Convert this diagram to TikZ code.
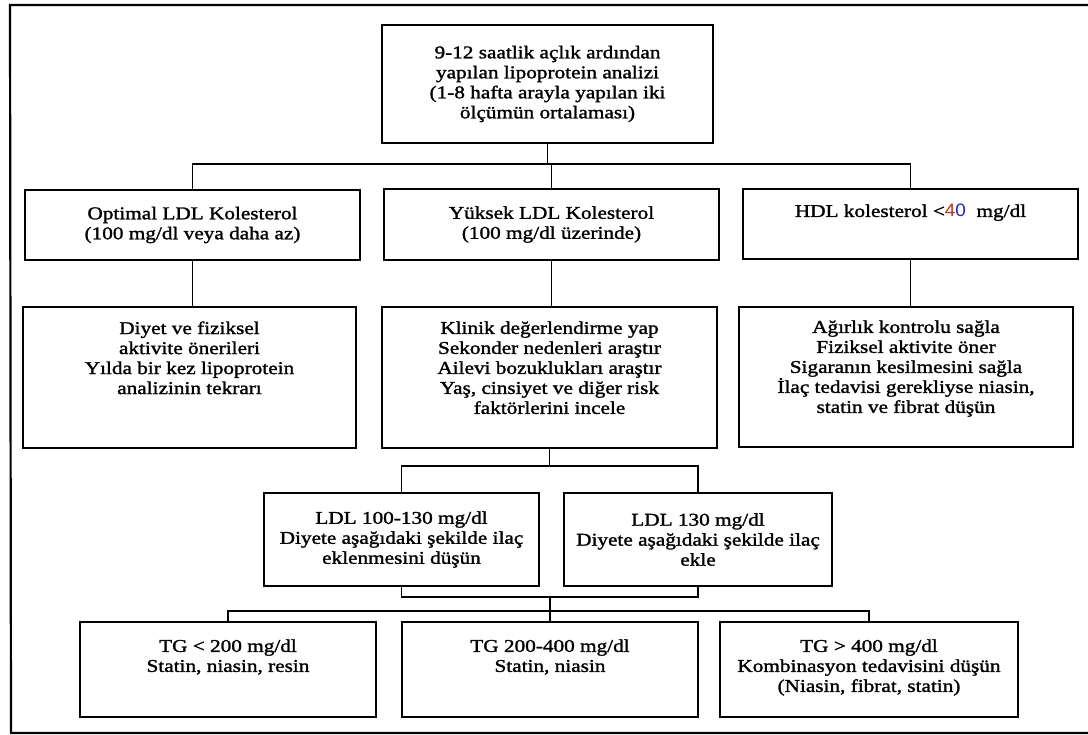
\documentclass[tikz,border=0pt]{standalone}
\usepackage{fontspec}
\setmainfont{Liberation Serif}[FakeStretch=1.18,FakeBold=1.5]
\newfontfamily\numfont{Liberation Sans}[FakeStretch=1.05]
\usetikzlibrary{calc}
\begin{document}
\begin{tikzpicture}[x=1pt,y=-1pt,
  box/.style={draw, line width=1.6pt, inner sep=0pt, align=center,
    font=\fontsize{18}{20}\selectfont},
  txt/.style={inner sep=0pt, align=center, font=\fontsize{18}{20}\selectfont},
  conn/.style={line width=1.3pt},
  frame/.style={line width=2.2pt}]
\useasboundingbox (0,0) rectangle (1088,735);
% outer frame (right side not visible)
\draw[frame] (1090,5) -- (10,5) -- (11,733) -- (1090,733);

% top
\node[box, minimum width=331pt, minimum height=118pt] (top) at (547.5,84)
  {9-12 saatlik açlık ardından\\yapılan lipoprotein analizi\\(1-8 hafta arayla yapılan iki\\ölçümün ortalaması)};

% row 2
\node[box, minimum width=335pt, minimum height=70pt] (opt) at (192.5,225)
  {Optimal LDL Kolesterol\\(100 mg/dl veya daha az)};
\node[box, minimum width=335pt, minimum height=71pt] (yuk) at (551.5,224.5)
  {Yüksek LDL Kolesterol\\(100 mg/dl üzerinde)};
\node[box, minimum width=335pt, minimum height=70pt] (hdl) at (910.5,224) {};
\node[txt, anchor=north] (hdl-t) at ($(hdl.north)+(0,16)$)
  {HDL kolesterol <{\numfont\color[RGB]{190,50,20}4\color[RGB]{30,40,190}0}~ mg/dl};

% row 3
\node[box, minimum width=333pt, minimum height=141pt] (diy) at (189.5,377.5) {};
\node[txt, anchor=north] (diy-t) at ($(diy.north)+(0,15)$)
  {Diyet ve fiziksel\\aktivite önerileri\\Yılda bir kez lipoprotein\\analizinin tekrarı};
\node[box, minimum width=335pt, minimum height=141pt] (kli) at (549.5,377.5) {};
\node[txt, anchor=north] (kli-t) at ($(kli.north)+(0,15)$)
  {Klinik değerlendirme yap\\Sekonder nedenleri araştır\\Ailevi bozuklukları araştır\\Yaş, cinsiyet ve diğer risk\\faktörlerini incele};
\node[box, minimum width=334pt, minimum height=140pt] (agi) at (906,377) {};
\node[txt, anchor=north] (agi-t) at ($(agi.north)+(0,14)$)
  {Ağırlık kontrolu sağla\\Fiziksel aktivite öner\\Sigaranın kesilmesini sağla\\İlaç tedavisi gerekliyse niasin,\\statin ve fibrat düşün};

% row 4
\node[box, minimum width=275pt, minimum height=93pt] (ldl1) at (401.5,539.5)
  {LDL 100-130 mg/dl\\Diyete aşağıdaki şekilde ilaç\\eklenmesini düşün};
\node[box, minimum width=268pt, minimum height=93pt] (ldl2) at (698,539.5)
  {LDL 130 mg/dl\\Diyete aşağıdaki şekilde ilaç\\ekle};

% row 5
\node[box, minimum width=296pt, minimum height=95pt] (tg1) at (228,669.5) {};
\node[txt, anchor=north] (tg1-t) at ($(tg1.north)+(0,18)$)
  {TG < 200 mg/dl\\Statin, niasin, resin};
\node[box, minimum width=296pt, minimum height=95pt] (tg2) at (550,669.5) {};
\node[txt, anchor=north] (tg2-t) at ($(tg2.north)+(0,18)$)
  {TG 200-400 mg/dl\\Statin, niasin};
\node[box, minimum width=298pt, minimum height=95pt] (tg3) at (869,669.5) {};
\node[txt, anchor=north] (tg3-t) at ($(tg3.north)+(0,18)$)
  {TG > 400 mg/dl\\Kombinasyon tedavisini düşün\\(Niasin, fibrat, statin)};

% connectors
\coordinate (bus1) at (0,164);
\coordinate (bus2) at (0,466);
\coordinate (bus3) at (0,597);
\coordinate (bus4) at (0,611);
\draw[conn] (top.south) -- (top.south |- bus1);
\draw[conn] (opt.north) -- (opt.north |- bus1) -- (hdl.north |- bus1) -- (hdl.north);
\draw[conn] (yuk.north) -- (yuk.north |- bus1);
\draw[conn] (opt.south) -- (opt.south |- diy.north);
\draw[conn] (yuk.south) -- (yuk.south |- kli.north);
\draw[conn] (hdl.south) -- (hdl.south |- agi.north);
\draw[conn] (kli.south) -- (kli.south |- bus2);
\draw[conn] (ldl1.north) -- (ldl1.north |- bus2) -- (ldl2.north |- bus2) -- (ldl2.north);
\draw[conn] (ldl1.south) -- (ldl1.south |- bus3) -- (ldl2.south |- bus3) -- (ldl2.south);
\draw[conn] (tg2.north) -- (tg2.north |- bus3);
\draw[conn] (tg1.north) -- (tg1.north |- bus4) -- (tg3.north |- bus4) -- (tg3.north);
\end{tikzpicture}
\end{document}
